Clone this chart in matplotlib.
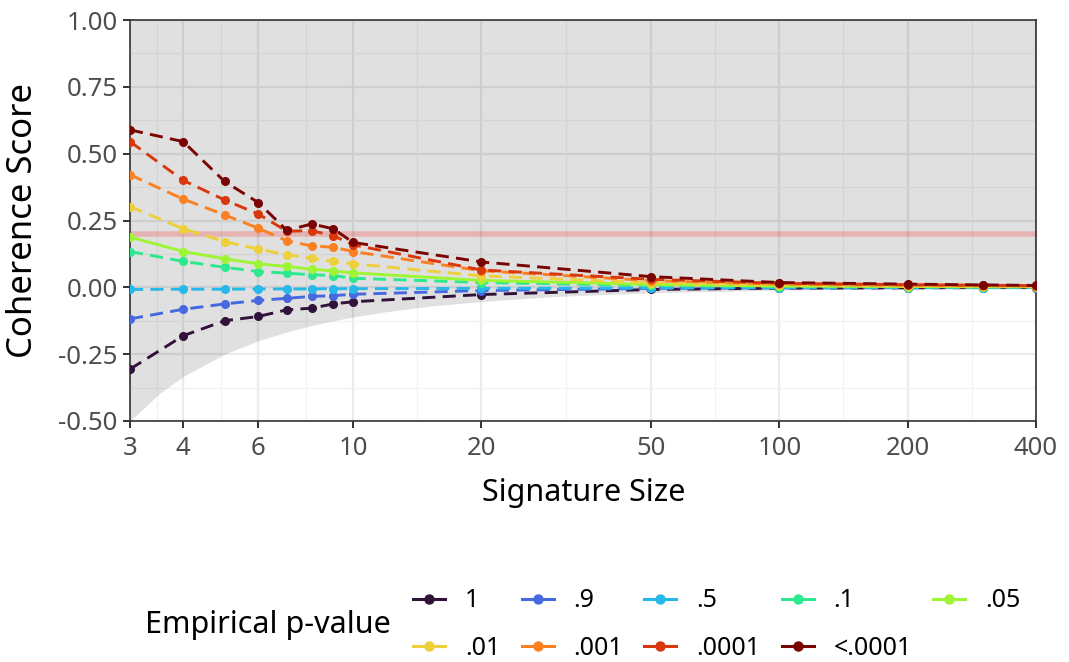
import numpy as np
import matplotlib
matplotlib.use("Agg")
import matplotlib.pyplot as plt
from matplotlib.lines import Line2D

plt.rcParams['font.family'] = ['Noto Sans', 'DejaVu Sans']

# signature sizes (log x axis)
sizes = [3, 4, 5, 6, 7, 8, 9, 10, 20, 50, 100, 200, 300, 400]

# mean coherence score per empirical p-value level
p_labels = ["1", ".9", ".5", ".1", ".05", ".01", ".001", ".0001", "<.0001"]
p_colors = ["#30123b", "#4669e0", "#27b8ea", "#2de88f", "#9ef534",
            "#edd03a", "#fb8022", "#d8380b", "#7a0403"]
score_p1 = [-0.306, -0.181, -0.125, -0.109, -0.084, -0.078, -0.062, -0.054,
            -0.027, -0.008, -0.003, -0.002, -0.001, -0.001]
score_p09 = [-0.118, -0.082, -0.062, -0.049, -0.041, -0.034, -0.031, -0.026,
             -0.012, -0.004, -0.002, -0.001, -0.001, -0.001]
score_p05 = [-0.008, -0.007, -0.007, -0.006, -0.006, -0.006, -0.005, -0.005,
             -0.004, -0.002, -0.001, -0.001, -0.001, 0.000]
score_p01 = [0.134, 0.097, 0.075, 0.059, 0.053, 0.047, 0.044, 0.034,
             0.018, 0.007, 0.003, 0.002, 0.001, 0.001]
score_p005 = [0.188, 0.134, 0.107, 0.088, 0.078, 0.068, 0.061, 0.054,
              0.026, 0.011, 0.005, 0.003, 0.002, 0.002]
score_p001 = [0.302, 0.219, 0.171, 0.143, 0.122, 0.109, 0.097, 0.088,
              0.043, 0.017, 0.008, 0.005, 0.004, 0.003]
score_p0001 = [0.421, 0.330, 0.271, 0.221, 0.174, 0.155, 0.150, 0.134,
               0.062, 0.025, 0.012, 0.007, 0.006, 0.005]
score_p00001 = [0.545, 0.400, 0.327, 0.274, 0.210, 0.212, 0.193, 0.159,
                0.065, 0.030, 0.015, 0.010, 0.008, 0.006]
score_lt = [0.589, 0.545, 0.396, 0.317, 0.213, 0.237, 0.219, 0.168,
            0.095, 0.040, 0.018, 0.012, 0.009, 0.007]
scores = [score_p1, score_p09, score_p05, score_p01, score_p005,
          score_p001, score_p0001, score_p00001, score_lt]

# lower edge of the null band
band_sizes = [3, 3.5, 4, 5, 6, 7, 8, 9, 10, 12, 15, 20, 30, 50, 100, 200, 400]
band_low = [-0.5, -0.4, -0.333, -0.25, -0.2, -0.167, -0.143, -0.125, -0.111,
            -0.091, -0.071, -0.053, -0.034, -0.02, -0.01, -0.005, -0.0025]

x_ticks = [3, 4, 6, 10, 20, 50, 100, 200, 400]
y_ticks = [-0.5, -0.25, 0, 0.25, 0.5, 0.75, 1.0]

fig = plt.figure(figsize=(10.69, 6.62), dpi=100)
ax = fig.add_axes([130 / 1069, 1 - 421 / 662, 906 / 1069, 401 / 662])
ax.set_xscale("log")
ax.set_xlim(3, 400)
ax.set_ylim(-0.5, 1.0)

# grid: majors at ticks, minors halfway in transformed space
lx = np.log10(x_ticks)
x_minor = 10 ** ((lx[:-1] + lx[1:]) / 2)
y_minor = [(a + b) / 2 for a, b in zip(y_ticks[:-1], y_ticks[1:])]
for v in x_ticks:
    ax.axvline(v, color="#ebebeb", lw=1.6, zorder=0)
for v in x_minor:
    ax.axvline(v, color="#f2f2f2", lw=0.9, zorder=0)
for v in y_ticks:
    ax.axhline(v, color="#ebebeb", lw=1.6, zorder=0)
for v in y_minor:
    ax.axhline(v, color="#f2f2f2", lw=0.9, zorder=0)

ax.fill_between(band_sizes, band_low, 1.0, color="black", alpha=0.12,
                lw=0, zorder=1)
ax.axhline(0.2, color="red", alpha=0.2, lw=4, zorder=2)

for lab, col, ys in zip(p_labels, p_colors, scores):
    ls = "-" if lab == ".05" else (0, (4.5, 2.5))
    ax.plot(sizes, ys, color=col, lw=2.1, ls=ls, marker="o", ms=5.5,
            zorder=3)

ax.set_xticks(x_ticks)
ax.set_xticklabels([str(v) for v in x_ticks])
ax.xaxis.set_minor_locator(matplotlib.ticker.NullLocator())
ax.set_yticks(y_ticks)
ax.set_yticklabels(["%.2f" % v for v in y_ticks])
ax.tick_params(axis="both", length=5, width=1.4, color="#333333",
               labelcolor="#4d4d4d", labelsize=18.5)
ax.tick_params(axis="x", pad=6)
ax.tick_params(axis="y", pad=4)
for s in ax.spines.values():
    s.set_color("#333333")
    s.set_linewidth(1.2)

ax.set_xlabel("Signature Size", fontsize=22)
ax.xaxis.set_label_coords(0.501, -0.143)
ax.set_ylabel("Coherence Score", fontsize=25)
ax.yaxis.set_label_coords(-0.099, 0.501)

# legend laid out row-wise, title on the left
order = [0, 5, 1, 6, 2, 7, 3, 8, 4]
handles = [Line2D([], [], color=p_colors[i], lw=2.2, marker="o", ms=6.5)
           for i in order]
labels = [p_labels[i] for i in order]
fig.legend(handles, labels, ncol=5, loc="center left",
           bbox_to_anchor=(413 / 1069, 1 - 624.5 / 662), frameon=False,
           fontsize=18, handlelength=1.28, columnspacing=0.85,
           handletextpad=0.8, labelspacing=0.9, borderpad=0,
           borderaxespad=0)
fig.text(145 / 1069, 1 - 625 / 662, "Empirical p-value", fontsize=22,
         va="center", ha="left")

fig.savefig("out.png", dpi=100)
